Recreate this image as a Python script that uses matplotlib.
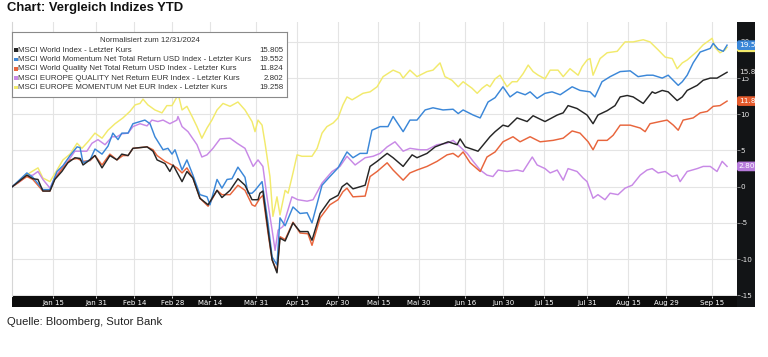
import numpy as np
import matplotlib
matplotlib.use('Agg')
import matplotlib.pyplot as plt
from matplotlib.patches import Rectangle

plt.rcParams['axes.unicode_minus'] = False

# ---------------- data ----------------
start = np.datetime64('2024-12-31T00:00:00')

world_days = [0, 5.4, 7.6, 9.5, 11.3, 13.9, 15.7, 18.3, 20.5, 23.1, 25.0, 26.1, 27.9, 30.5, 33.1, 36.0, 38.6, 40.4, 42.7, 44.5,
              49.7, 51.9, 53.4, 56.3, 58.1, 59.3, 62.6, 64.4, 66.6, 69.2, 72.2, 75.5, 77.3, 80.3, 83.2, 85.8, 88.4, 90.6, 91.3, 92.4,
              94.3, 95.8, 97.6, 98.7, 100.6, 103.5, 106.1, 109.0, 110.5, 113.5, 117.1, 120.1, 121.6, 123.4, 125.6, 130.1, 131.9, 134.5,
              138.2, 140.4, 144.1, 147.4, 149.2, 152.9, 155.9, 160.7, 164.0, 165.1, 167.0, 171.7, 176.1, 178.0, 180.9, 182.8, 186.1,
              189.8, 192.0, 196.4, 200.9, 203.1, 204.9, 208.2, 211.9, 214.1, 215.9, 219.3, 222.2, 224.1, 226.7, 228.9, 232.6, 235.9,
              237.0, 239.6, 241.8, 245.1, 247.0, 248.8, 252.5, 254.7, 257.3, 259.8, 263.5]
world_vals = [0, 1.6, 1.1, 1.0, -0.6, -0.6, 1.0, 2.1, 3.3, 4.0, 3.9, 3.0, 3.5, 4.3, 2.6, 4.3, 3.7, 4.5, 4.3, 5.3,
              5.5, 4.9, 3.7, 3.2, 2.1, 3.0, 0.7, 2.1, 1.2, -1.6, -2.5, -0.5, -1.5, -0.5, 1.1, 0.2, -1.8, -1.8, -0.9, -0.6,
              -6.0, -10.1, -11.9, -7.1, -7.5, -5.0, -6.2, -6.2, -7.4, -3.7, -1.8, -1.2, 0.0, 0.5, -0.3, 0.2, 2.8, 3.5,
              4.6, 4.0, 2.8, 4.4, 4.0, 4.6, 5.5, 6.2, 5.8, 6.6, 5.5, 4.9, 6.9, 7.6, 8.5, 8.3, 9.5,
              9.0, 9.8, 9.0, 9.9, 10.2, 11.2, 10.8, 9.9, 8.7, 9.9, 10.5, 11.2, 12.4, 12.6, 12.4, 11.5, 13.1,
              12.9, 13.3, 13.1, 11.9, 12.4, 13.3, 14.0, 14.7, 15.0, 15.0, 15.805]

momw_days = [0, 5.4, 7.6, 11.3, 13.9, 16.5, 18.7, 21.3, 23.9, 25.0, 26.1, 28.7, 30.5, 33.1, 35.3, 37.1, 39.0, 40.4, 42.7, 44.5,
             48.9, 50.8, 52.6, 55.6, 57.4, 58.9, 60.0, 62.6, 64.4, 66.6, 69.2, 71.8, 72.9, 75.5, 77.3, 79.2, 81.0, 83.2, 85.8, 86.9,
             88.4, 89.5, 92.1, 94.3, 95.8, 97.6, 98.7, 100.6, 103.5, 106.1, 108.7, 110.5, 114.2, 117.1, 120.1, 123.4, 125.6, 128.2,
             130.8, 132.6, 135.6, 138.5, 140.4, 144.1, 146.6, 149.2, 152.2, 155.1, 158.8, 162.5, 164.4, 166.2, 169.9, 172.5, 175.4,
             178.0, 180.9, 183.5, 186.1, 189.1, 190.9, 193.5, 196.4, 199.0, 202.0, 206.4, 209.3, 213.0, 214.8, 217.4, 220.4, 224.1,
             227.8, 230.7, 234.0, 236.2, 239.6, 241.8, 245.5, 247.0, 248.8, 251.0, 253.6, 257.3, 258.4, 260.2, 262.1, 263.5]
momw_vals = [0, 1.9, 1.3, -0.4, -0.4, 2.1, 2.9, 4.3, 5.5, 5.4, 3.3, 3.7, 5.2, 4.5, 5.6, 7.4, 6.5, 7.4, 7.4, 8.7,
             9.2, 8.7, 6.9, 5.1, 5.3, 4.5, 5.1, 2.3, 3.7, 1.6, -1.1, -1.4, -2.5, 1.0, -0.2, 1.0, 1.1, 2.7, 1.3, -0.9,
             -0.9, -0.5, 0.7, -5.0, -9.7, -10.8, -4.3, -5.4, -2.8, -3.7, -3.6, -5.0, 0.2, 1.4, 2.6, 4.8, 4.0, 4.6,
             4.6, 7.8, 8.3, 8.3, 9.7, 7.6, 9.2, 9.2, 10.6, 10.9, 10.6, 10.7, 10.1, 10.6, 9.9, 9.5, 11.7,
             12.3, 13.8, 12.4, 13.1, 12.7, 13.1, 12.2, 12.9, 13.1, 12.7, 13.8, 13.3, 13.1, 12.4, 14.5, 15.2, 15.9,
             16.0, 15.2, 15.4, 15.4, 15.0, 15.4, 14.0, 14.5, 15.4, 17.1, 18.6, 19.1, 19.8, 19.0, 18.7, 19.552]

qualw_days = [0, 5.4, 7.6, 11.3, 13.9, 15.7, 18.7, 21.3, 23.9, 26.1, 28.7, 30.5, 33.1, 36.0, 38.6, 40.8, 42.7, 44.5, 49.7, 51.9,
              53.4, 56.3, 58.9, 60.7, 62.6, 64.4, 66.6, 69.2, 72.2, 75.5, 77.3, 80.3, 83.2, 85.8, 88.4, 89.5, 91.3, 92.4, 94.3, 95.8,
              97.6, 98.7, 100.6, 103.5, 106.1, 109.0, 110.5, 113.5, 117.1, 120.1, 121.9, 123.4, 125.6, 130.1, 131.9, 134.5, 138.2,
              140.4, 144.1, 146.6, 149.2, 152.9, 156.6, 160.3, 162.5, 164.4, 166.2, 168.8, 172.5, 175.0, 178.0, 180.9, 184.6, 187.2,
              190.9, 194.6, 199.4, 203.1, 206.4, 209.3, 212.3, 214.1, 215.9, 219.3, 221.5, 224.1, 227.8, 231.5, 233.3, 235.1, 238.8,
              241.4, 243.7, 245.5, 247.3, 251.0, 253.6, 256.2, 258.4, 260.9, 263.5]
qualw_vals = [0, 1.4, 1.0, -0.6, -0.6, 1.1, 2.6, 3.7, 3.9, 3.5, 3.6, 4.3, 3.0, 4.5, 3.7, 4.3, 4.3, 5.3, 5.5, 5.1,
              4.3, 3.5, 3.0, 2.6, 1.9, 2.6, 1.2, -1.6, -2.7, -0.5, -1.1, -1.1, 0.2, -0.5, -2.5, -2.7, -1.6, -1.2, -6.4, -10.1,
              -11.7, -6.9, -7.3, -4.9, -6.4, -6.5, -8.1, -4.3, -2.5, -1.8, -0.7, -0.2, -1.4, -1.3, 1.4, 2.1, 3.3,
              2.3, 0.9, 1.9, 2.3, 2.8, 3.5, 4.4, 4.6, 4.1, 4.8, 3.3, 2.1, 4.1, 4.8, 6.2, 6.9, 6.2,
              6.9, 6.2, 6.4, 6.7, 7.7, 7.4, 6.2, 5.1, 6.4, 6.4, 7.1, 8.5, 8.5, 8.1, 7.6, 8.7, 9.0,
              9.2, 8.5, 7.8, 9.2, 9.5, 10.2, 10.4, 11.1, 11.2, 11.824]

qualeu_days = [0, 2.8, 5.4, 7.6, 9.5, 11.3, 13.9, 15.7, 18.3, 20.5, 23.1, 25.0, 27.5, 29.4, 31.6, 34.2, 36.8, 38.6, 40.4, 42.7,
               44.5, 47.1, 49.7, 51.5, 53.7, 55.6, 58.1, 60.7, 61.1, 62.6, 64.8, 68.1, 69.9, 71.8, 74.0, 76.6, 80.3, 82.9, 85.8, 88.8,
               90.6, 92.4, 93.9, 95.8, 96.9, 98.0, 99.8, 103.1, 105.3, 108.7, 110.9, 114.2, 117.9, 120.8, 123.4, 126.4, 130.1, 133.0,
               135.6, 138.2, 141.1, 144.1, 146.6, 150.3, 152.9, 156.6, 160.3, 162.5, 165.1, 167.7, 169.9, 172.5, 175.0, 177.2, 179.1,
               182.4, 186.1, 188.3, 191.7, 193.5, 196.4, 198.3, 200.9, 203.1, 204.9, 208.2, 210.4, 211.9, 214.1, 215.9, 218.5, 220.4,
               223.3, 225.9, 228.5, 231.5, 234.0, 235.9, 238.1, 240.7, 243.3, 245.1, 246.2, 248.8, 252.5, 254.7, 257.3, 259.8, 261.7, 263.5]
qualeu_vals = [0, 0.7, 1.5, 1.6, 2.1, 1.0, -0.2, 1.3, 2.6, 3.5, 4.9, 4.9, 4.9, 6.0, 6.5, 5.8, 6.9, 6.9, 7.3, 7.4,
               8.3, 8.7, 8.4, 9.2, 9.0, 9.2, 8.7, 9.2, 9.7, 8.3, 7.6, 5.8, 4.1, 4.4, 5.3, 6.6, 6.7, 6.0, 5.3, 2.8,
               3.7, 2.8, -1.4, -6.0, -8.8, -6.0, -5.5, -1.4, -1.8, -2.0, -1.8, 0.5, 2.1, 2.8, 4.2, 3.0, 4.0, 4.2,
               4.6, 5.5, 6.2, 4.9, 5.3, 5.1, 5.1, 5.8, 6.0, 6.4, 5.5, 4.6, 3.5, 2.3, 1.6, 1.4, 2.3,
               2.1, 2.3, 2.1, 4.1, 3.0, 2.5, 1.9, 2.3, 0.9, 2.5, 2.1, 1.2, 0.7, -1.6, -1.1, -1.8, -0.9,
               -1.1, -0.2, 0.2, 1.6, 2.3, 2.5, 1.9, 2.1, 1.4, 1.6, 0.7, 2.1, 2.5, 2.8, 2.8, 2.1, 3.5, 2.802]

momeu_days = [0, 2.1, 4.7, 7.3, 9.5, 11.3, 13.9, 16.5, 18.7, 21.3, 23.9, 25.7, 27.9, 30.5, 33.1, 35.3, 37.9, 40.8, 43.4, 45.3,
              47.1, 48.2, 50.0, 52.6, 55.2, 57.0, 58.9, 60.7, 61.1, 62.6, 64.4, 66.3, 68.1, 69.9, 71.8, 73.6, 75.5, 77.7, 80.3, 83.2,
              85.8, 88.4, 89.5, 90.6, 92.1, 93.2, 95.0, 96.1, 97.6, 98.7, 100.6, 101.7, 103.5, 105.0, 106.8, 108.7, 110.5, 112.4,
              114.2, 116.0, 118.3, 120.1, 121.9, 123.4, 125.3, 127.1, 129.3, 131.9, 134.5, 136.7, 140.4, 142.9, 144.1, 146.6, 149.2,
              152.9, 155.1, 157.7, 159.5, 162.1, 164.4, 166.2, 169.5, 171.4, 173.2, 175.0, 176.1, 178.0, 179.8, 182.4, 184.3, 186.1,
              188.3, 190.2, 192.0, 193.9, 196.4, 198.3, 201.2, 203.1, 205.6, 208.6, 210.1, 211.9, 213.0, 214.1, 216.7, 219.3, 223.0,
              225.9, 228.9, 232.6, 235.1, 238.1, 240.7, 243.3, 245.1, 247.0, 248.8, 252.5, 254.7, 257.3, 258.0, 259.1, 260.9, 262.8, 263.5]
momeu_vals = [0, 0.5, 1.5, 2.1, 2.6, 1.2, 0.7, 2.3, 3.7, 4.5, 6.0, 5.3, 6.2, 7.4, 6.7, 7.8, 8.7, 9.5, 10.4, 11.3,
              11.5, 12.1, 11.3, 10.6, 10.2, 11.2, 11.2, 12.4, 12.9, 10.6, 11.1, 9.7, 8.3, 6.7, 8.1, 9.2, 10.6, 11.5, 11.1, 11.7,
              10.6, 9.0, 7.6, 9.2, 8.5, 6.0, 1.4, -4.1, -1.4, -3.9, -0.5, -0.9, 1.9, 4.4, 4.2, 4.2, 4.2, 5.3,
              7.4, 8.3, 8.8, 9.5, 11.3, 12.4, 12.0, 12.4, 12.9, 13.1, 13.8, 15.2, 16.1, 15.7, 15.0, 16.1, 15.2,
              15.9, 16.1, 17.1, 15.2, 14.7, 13.8, 14.5, 13.6, 12.9, 13.6, 14.1, 13.8, 14.9, 15.4, 13.8, 14.5, 14.5,
              15.6, 16.8, 15.9, 15.4, 14.9, 16.1, 16.1, 15.2, 16.3, 15.4, 16.6, 17.5, 17.7, 15.4, 17.7, 18.5, 18.7,
              20.0, 20.0, 20.3, 20.0, 18.9, 17.9, 17.7, 16.3, 17.1, 17.5, 18.7, 19.6, 20.3, 20.5, 19.2, 18.5, 18.9, 19.258]

series_names = ['MSCI World Index - Letzter Kurs',
                'MSCI World Momentum Net Total Return USD Index - Letzter Kurs',
                'MSCI World Quality Net Total Return USD Index - Letzter Kurs',
                'MSCI EUROPE QUALITY Net Return EUR Index - Letzter Kurs',
                'MSCI EUROPE MOMENTUM Net EUR Index - Letzter Kurs']
series_last = ['15.805', '19.552', '11.824', '2.802', '19.258']
series_colors = ['#262626', '#3b87d8', '#e8653c', '#c889e6', '#f2ea6c']
series_days = [world_days, momw_days, qualw_days, qualeu_days, momeu_days]
series_vals = [world_vals, momw_vals, qualw_vals, qualeu_vals, momeu_vals]

tick_dates = ['2025-01-15', '2025-01-31', '2025-02-14', '2025-02-28', '2025-03-14', '2025-03-31',
              '2025-04-15', '2025-04-30', '2025-05-15', '2025-05-30', '2025-06-16', '2025-06-30',
              '2025-07-15', '2025-07-31', '2025-08-15', '2025-08-29', '2025-09-15']
tick_labels = ['Jan 15', 'Jan 31', 'Feb 14', 'Feb 28', 'Mär 14', 'Mär 31', 'Apr 15', 'Apr 30', 'Mai 15',
               'Mai 30', 'Jun 16', 'Jun 30', 'Jul 15', 'Jul 31', 'Aug 15', 'Aug 29', 'Sep 15']
y_ticks = [-15, -10, -5, 0, 5, 10, 15, 20]

title = 'Chart: Vergleich Indizes YTD'
legend_title = 'Normalisiert zum 12/31/2024'
source = 'Quelle: Bloomberg, Sutor Bank'


def to_dates(days):
    return start + (np.array(days) * 86400).astype('timedelta64[s]')


# ---------------- layout ----------------
W, H = 768, 357
fig = plt.figure(figsize=(W / 100, H / 100), dpi=100)
fig.patch.set_facecolor('white')

def frect(x0, y0, x1, y1):
    return [x0 / W, 1 - y1 / H, (x1 - x0) / W, (y1 - y0) / H]

# black strips (behind axes)
fig.patches.append(Rectangle((12 / W, 1 - 307 / H), (755 - 12) / W, 11 / H,
                             transform=fig.transFigure, facecolor='#0c0c0c', edgecolor='none', zorder=-5))
fig.patches.append(Rectangle((737 / W, 1 - 307 / H), 18 / W, (307 - 22) / H,
                             transform=fig.transFigure, facecolor='#121416', edgecolor='none', zorder=-5))

ax = fig.add_axes(frect(12, 22, 737, 296))
ax.set_facecolor('white')

# draw lines, first series on top
for i in range(len(series_names) - 1, -1, -1):
    ax.plot(to_dates(series_days[i]), series_vals[i], color=series_colors[i], lw=1.05,
            solid_joinstyle='round', zorder=3 + (len(series_names) - i))

x0 = start + np.timedelta64(-2, 'h')
x1 = start + np.timedelta64(int(267.2 * 24), 'h')
ax.set_xlim(x0, x1)
ax.set_ylim(-15.1, 22.75)

ax.set_xticks(np.array(tick_dates, dtype='datetime64[D]'))
ax.set_xticklabels(tick_labels)
ax.set_yticks(y_ticks)
ax.yaxis.tick_right()
ax.tick_params(axis='x', colors='white', labelcolor='white', labelsize=5, length=1.5, pad=1.2, width=0.6)
ax.tick_params(axis='y', colors='#9a9a9a', labelcolor='#e6e6e6', labelsize=5.2, length=1.8, pad=0.8, width=0.6)
for lbl in ax.get_xticklabels() + ax.get_yticklabels():
    lbl.set_family('DejaVu Sans')

ax.grid(True, color='#e4e4e4', lw=0.8, zorder=0)
ax.set_axisbelow(True)
for s in ['top', 'right', 'bottom']:
    ax.spines[s].set_visible(False)
ax.spines['left'].set_color('#d6d6d6')
ax.spines['left'].set_linewidth(0.8)

# value boxes on the right strip
sax = fig.add_axes(frect(737, 22, 755, 296), facecolor='none', zorder=6)
sax.set_ylim(-15.1, 22.75)
sax.set_xlim(0, 1)
sax.axis('off')
box_text_colors = ['#e0e0e0', 'white', 'white', 'white', '#222222']
box_face = ['#161616', series_colors[1], '#e45a2c', '#b77cdc', series_colors[4]]
order = [4, 1, 0, 2, 3]
for i in order:
    v = float(series_last[i])
    sax.text(0.1, v, series_last[i], fontsize=5.3, family='DejaVu Sans', color=box_text_colors[i],
             ha='left', va='center', clip_on=True, zorder=7,
             bbox=dict(boxstyle='round,pad=0.25,rounding_size=0.3', fc=box_face[i], ec='none'))

# legend box
lax = fig.add_axes(frect(12, 32, 287, 97), zorder=8)
lax.set_xlim(12, 287)
lax.set_ylim(97, 32)
lax.set_xticks([])
lax.set_yticks([])
lax.set_facecolor('white')
for s in lax.spines.values():
    s.set_color('#8a8a8a')
    s.set_linewidth(0.8)
lax.text(150, 40.5, legend_title, fontsize=5.6, family='Liberation Sans', color='#333333', ha='center', va='center')
row_y = [50.2, 59.5, 68.8, 78.1, 87.4]
for i, name in enumerate(series_names):
    lax.add_patch(Rectangle((14.2, row_y[i] - 1.8), 3.4, 3.6, facecolor=series_colors[i], edgecolor='none'))
    lax.text(18.5, row_y[i], name, fontsize=5.7, family='Liberation Sans', color='#333333', ha='left', va='center')
    lax.text(283.5, row_y[i], series_last[i], fontsize=5.7, family='Liberation Sans', color='#333333',
             ha='right', va='center')

fig.text(7 / W, 1 - 8.5 / H, title, fontsize=9.4, fontweight='bold', family='Liberation Sans',
         color='#111111', ha='left', va='center')
fig.text(7 / W, 1 - 322 / H, source, fontsize=8.1, family='Liberation Sans', color='#222222',
         ha='left', va='center')

fig.savefig('out.png', dpi=100, facecolor='white')
